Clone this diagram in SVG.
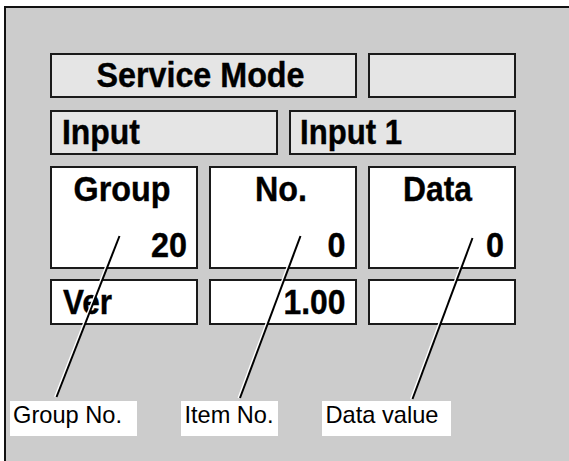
<svg xmlns="http://www.w3.org/2000/svg" width="569" height="461" viewBox="0 0 569 461">
  <style>
    .panel { fill: #e5e5e5; stroke: #1a1a1a; stroke-width: 2; }
    .cell { fill: #ffffff; stroke: #1a1a1a; stroke-width: 2; }
    .big { font-family: "Liberation Sans", Arial, sans-serif; font-weight: bold; font-size: 35px; fill: #000; stroke: #000; stroke-width: 0.4; }
    .lbl { fill: #ffffff; stroke: none; }
    .lbltxt { font-family: "Liberation Sans", Arial, sans-serif; font-size: 24px; fill: #000; }
    .halo { stroke: #ffffff; stroke-width: 2; fill: none; }
    .lead { stroke: #000000; stroke-width: 2; fill: none; }
  </style>
  <rect x="0" y="0" width="569" height="461" fill="#ffffff"/>
  <rect id="frame" x="5" y="7" width="600" height="500" fill="#cccccc" stroke="#111111" stroke-width="2"/>

  <g id="service-mode">
    <rect class="panel" x="51" y="54" width="305" height="43"/>
    <text class="big" x="96.5" y="87" textLength="208" lengthAdjust="spacingAndGlyphs">Service Mode</text>
  </g>
  <g id="blank-top">
    <rect class="panel" x="369" y="54" width="146" height="43"/>
  </g>
  <g id="input">
    <rect class="panel" x="51" y="111" width="226" height="43"/>
    <text class="big" x="62" y="144" textLength="78" lengthAdjust="spacingAndGlyphs">Input</text>
  </g>
  <g id="input-1">
    <rect class="panel" x="290" y="111" width="225" height="43"/>
    <text class="big" x="300" y="144" textLength="102" lengthAdjust="spacingAndGlyphs">Input 1</text>
  </g>
  <g id="group">
    <rect class="cell" x="51" y="167" width="146" height="101"/>
    <text class="big" x="122" y="201" text-anchor="middle" textLength="97" lengthAdjust="spacingAndGlyphs">Group</text>
    <text class="big" x="187" y="257" text-anchor="end" textLength="36" lengthAdjust="spacingAndGlyphs">20</text>
  </g>
  <g id="no">
    <rect class="cell" x="210" y="167" width="146" height="101"/>
    <text class="big" x="281" y="201" text-anchor="middle" textLength="52" lengthAdjust="spacingAndGlyphs">No.</text>
    <text class="big" x="345.5" y="257" text-anchor="end" textLength="18" lengthAdjust="spacingAndGlyphs">0</text>
  </g>
  <g id="data">
    <rect class="cell" x="369" y="167" width="146" height="101"/>
    <text class="big" x="437.5" y="201" text-anchor="middle" textLength="69" lengthAdjust="spacingAndGlyphs">Data</text>
    <text class="big" x="504" y="257" text-anchor="end" textLength="18" lengthAdjust="spacingAndGlyphs">0</text>
  </g>
  <g id="ver">
    <rect class="cell" x="51" y="280" width="146" height="44"/>
    <text class="big" x="63" y="314" textLength="49" lengthAdjust="spacingAndGlyphs">Ver</text>
  </g>
  <g id="version">
    <rect class="cell" x="210" y="280" width="146" height="44"/>
    <text class="big" x="345.5" y="314" text-anchor="end" textLength="62" lengthAdjust="spacingAndGlyphs">1.00</text>
  </g>
  <g id="blank-bottom">
    <rect class="cell" x="369" y="280" width="146" height="44"/>
  </g>

  <g id="connectors">
    <line class="halo" x1="118" y1="236" x2="55" y2="397"/>
    <line class="lead" x1="119.5" y1="236" x2="56.5" y2="397"/>
    <line class="halo" x1="299" y1="236" x2="238.5" y2="398"/>
    <line class="lead" x1="300.5" y1="236" x2="240" y2="398"/>
    <line class="halo" x1="471" y1="238" x2="411" y2="399"/>
    <line class="lead" x1="472.5" y1="238" x2="412.5" y2="399"/>
  </g>

  <g id="label-group-no">
    <rect class="lbl" x="10" y="401" width="127" height="35"/>
    <text class="lbltxt" x="13" y="423" textLength="109" lengthAdjust="spacingAndGlyphs">Group No.</text>
  </g>
  <g id="label-item-no">
    <rect class="lbl" x="181" y="401" width="97" height="35"/>
    <text class="lbltxt" x="184.5" y="423" textLength="89" lengthAdjust="spacingAndGlyphs">Item No.</text>
  </g>
  <g id="label-data-value">
    <rect class="lbl" x="322" y="401" width="129" height="35"/>
    <text class="lbltxt" x="325.5" y="423" textLength="113" lengthAdjust="spacingAndGlyphs">Data value</text>
  </g>
</svg>
